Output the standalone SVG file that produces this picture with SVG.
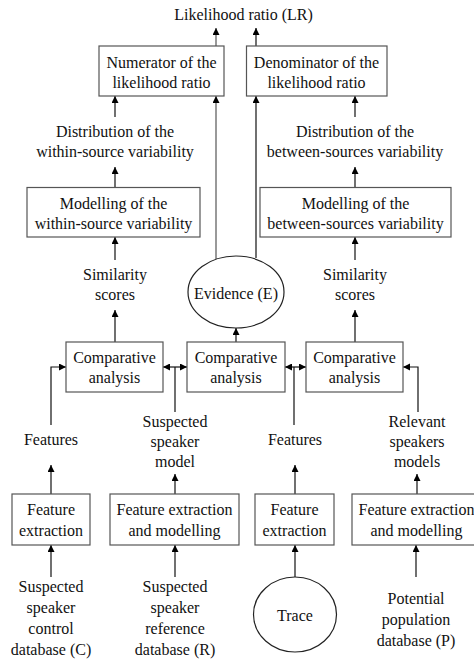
<svg xmlns="http://www.w3.org/2000/svg" width="474" height="664" viewBox="0 0 474 664">
<defs>
<marker id="ah" markerWidth="8" markerHeight="8" refX="7" refY="3.5" orient="auto" markerUnits="userSpaceOnUse">
<path d="M0,0 L7,3.5 L0,7 z" fill="#000"/>
</marker>
<marker id="ahs" markerWidth="8" markerHeight="8" refX="0" refY="3.5" orient="auto" markerUnits="userSpaceOnUse">
<path d="M7,0 L0,3.5 L7,7 z" fill="#000"/>
</marker>
</defs>
<style>
text{font-family:"Liberation Serif","Times New Roman",serif;font-size:16px;fill:#111;text-anchor:middle}
.box{fill:#fff;stroke:#555;stroke-width:1.2}
.ell{fill:#fff;stroke:#222;stroke-width:1.2}
.c{fill:none;stroke:#111;stroke-width:1.2}
.g{fill:none;stroke:#555;stroke-width:1.2}
</style>
<rect width="474" height="664" fill="#fff"/>
<g id="connectors">
<line class="g" x1="216" y1="46" x2="216" y2="28" marker-end="url(#ah)"/>
<line class="c" x1="256" y1="46" x2="256" y2="28" marker-end="url(#ah)"/>
<line class="c" x1="115" y1="117" x2="115" y2="96" marker-end="url(#ah)"/>
<line class="c" x1="355" y1="117" x2="355" y2="96" marker-end="url(#ah)"/>
<line class="c" x1="115" y1="188" x2="115" y2="167" marker-end="url(#ah)"/>
<line class="c" x1="355" y1="188" x2="355" y2="167" marker-end="url(#ah)"/>
<line class="c" x1="115" y1="260" x2="115" y2="237" marker-end="url(#ah)"/>
<line class="c" x1="355" y1="260" x2="355" y2="237" marker-end="url(#ah)"/>
<line class="c" x1="115" y1="342" x2="115" y2="310" marker-end="url(#ah)"/>
<line class="c" x1="355" y1="342" x2="355" y2="310" marker-end="url(#ah)"/>
<line class="g" x1="216" y1="259" x2="216" y2="96" marker-end="url(#ah)"/>
<line class="c" x1="256" y1="258" x2="256" y2="96" marker-end="url(#ah)"/>
<line class="c" x1="236" y1="342" x2="236" y2="328" marker-end="url(#ah)"/>
<polyline class="c" points="51,425 51,367 66,367" marker-end="url(#ah)"/>
<line class="c" x1="175" y1="412" x2="175" y2="367"/>
<line class="c" x1="163" y1="367" x2="187" y2="367" marker-start="url(#ahs)" marker-end="url(#ah)"/>
<line class="c" x1="294" y1="425" x2="294" y2="367"/>
<line class="c" x1="285" y1="367" x2="306" y2="367" marker-start="url(#ahs)" marker-end="url(#ah)"/>
<polyline class="c" points="418,412 418,367 403,367" marker-end="url(#ah)"/>
<line class="c" x1="51" y1="494" x2="51" y2="465" marker-end="url(#ah)"/>
<line class="c" x1="175" y1="494" x2="175" y2="474" marker-end="url(#ah)"/>
<line class="c" x1="295" y1="494" x2="295" y2="465" marker-end="url(#ah)"/>
<line class="c" x1="417" y1="494" x2="417" y2="474" marker-end="url(#ah)"/>
<line class="c" x1="51" y1="577" x2="51" y2="545" marker-end="url(#ah)"/>
<line class="c" x1="175" y1="577" x2="175" y2="545" marker-end="url(#ah)"/>
<line class="c" x1="295" y1="577" x2="295" y2="545" marker-end="url(#ah)"/>
<line class="c" x1="416" y1="577" x2="416" y2="545" marker-end="url(#ah)"/>
</g>
<g id="lr"><text x="243.5" y="20">Likelihood ratio (LR)</text></g>
<g id="numerator"><rect class="box" x="99" y="46" width="125" height="50"/><text x="161.5" y="68">Numerator of the</text><text x="161.5" y="88">likelihood ratio</text></g>
<g id="denominator"><rect class="box" x="246.5" y="46" width="140.5" height="50"/><text x="316.5" y="68">Denominator of the</text><text x="316.5" y="88">likelihood ratio</text></g>
<g id="dist-within"><text x="115" y="137">Distribution of the</text><text x="115" y="157">within-source variability</text></g>
<g id="dist-between"><text x="355" y="137">Distribution of the</text><text x="355" y="157">between-sources variability</text></g>
<g id="model-within"><rect class="box" x="27" y="187.5" width="173" height="49.5"/><text x="113.5" y="209">Modelling of the</text><text x="113.5" y="229">within-source variability</text></g>
<g id="model-between"><rect class="box" x="260" y="187.5" width="191" height="49.5"/><text x="355.5" y="209">Modelling of the</text><text x="355.5" y="229">between-sources variability</text></g>
<g id="sim-left"><text x="115" y="280">Similarity</text><text x="115" y="300">scores</text></g>
<g id="sim-right"><text x="355" y="280">Similarity</text><text x="355" y="300">scores</text></g>
<g id="evidence"><ellipse class="ell" cx="236" cy="292" rx="48" ry="36"/><text x="236" y="299">Evidence (E)</text></g>
<g id="comp1"><rect class="box" x="66" y="342" width="97" height="50"/><text x="114.5" y="363">Comparative</text><text x="114.5" y="383">analysis</text></g>
<g id="comp2"><rect class="box" x="187" y="342" width="98" height="50"/><text x="236" y="363">Comparative</text><text x="236" y="383">analysis</text></g>
<g id="comp3"><rect class="box" x="306" y="342" width="97" height="50"/><text x="354.5" y="363">Comparative</text><text x="354.5" y="383">analysis</text></g>
<g id="features1"><text x="51" y="445">Features</text></g>
<g id="ssmodel"><text x="175" y="427">Suspected</text><text x="175" y="447">speaker</text><text x="175" y="467">model</text></g>
<g id="features2"><text x="295" y="445">Features</text></g>
<g id="rsmodels"><text x="417" y="427">Relevant</text><text x="417" y="447">speakers</text><text x="417" y="467">models</text></g>
<g id="fe1"><rect class="box" x="12" y="494" width="78" height="51"/><text x="51" y="515">Feature</text><text x="51" y="536">extraction</text></g>
<g id="fem1"><rect class="box" x="110" y="494" width="129" height="51"/><text x="174.5" y="515">Feature extraction</text><text x="174.5" y="536">and modelling</text></g>
<g id="fe2"><rect class="box" x="255" y="494" width="79" height="51"/><text x="294.5" y="515">Feature</text><text x="294.5" y="536">extraction</text></g>
<g id="fem2"><rect class="box" x="352" y="494" width="129" height="51"/><text x="416.5" y="515">Feature extraction</text><text x="416.5" y="536">and modelling</text></g>
<g id="db-c"><text x="51" y="592">Suspected</text><text x="51" y="613">speaker</text><text x="51" y="634">control</text><text x="51" y="655">database (C)</text></g>
<g id="db-r"><text x="175" y="592">Suspected</text><text x="175" y="613">speaker</text><text x="175" y="634">reference</text><text x="175" y="655">database (R)</text></g>
<g id="trace"><ellipse class="ell" cx="295" cy="614.5" rx="41.5" ry="37.5"/><text x="295" y="621">Trace</text></g>
<g id="db-p"><text x="416" y="604">Potential</text><text x="416" y="625">population</text><text x="416" y="646">database (P)</text></g>
</svg>
